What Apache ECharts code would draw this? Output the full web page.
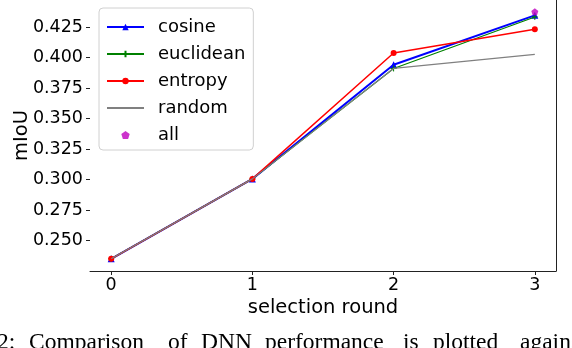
<!DOCTYPE html>
<html><head><meta charset="utf-8">
<script src="https://cdn.jsdelivr.net/npm/echarts@6/dist/echarts.min.js"></script>
<style>html,body{margin:0;padding:0;background:#fff}#c{width:572px;height:348px}</style>
</head><body><div id="c"></div>
<script>
var rounds = [0, 1, 2, 3];
var cosine = [0.235, 0.3005, 0.394, 0.4345];
var euclidean = [0.235, 0.3005, 0.391, 0.4332];
var entropy = [0.235, 0.3005, 0.4037, 0.4232];
var random = [0.235, 0.3005, 0.391, 0.4025];
var allRounds = [3];
var allValues = [0.4375];
var xTicks = [0, 1, 2, 3];
var yTicks = [0.250, 0.275, 0.300, 0.325, 0.350, 0.375, 0.400, 0.425];
var captionWords = ["2:", "Comparison", "of", "DNN", "performance", "is", "plotted", "against"];

function pairs(xs, ys) { return xs.map(function (x, i) { return [x, ys[i]]; }); }
var FONT = 'DejaVu Sans';
var PLUS = 'path://M5,0 L5,10 M0,5 L10,5';
var PENT = 'path://M0,-1 L0.951,-0.309 L0.588,0.809 L-0.588,0.809 L-0.951,-0.309 Z';

var chart = echarts.init(document.getElementById('c'), null, {renderer: 'canvas'});
var capX = [-3, 29, 168, 201, 265, 403, 433, 520];
chart.setOption({
  animation: false,
  backgroundColor: '#fff',
  grid: {left: 90, right: 16, top: 0, bottom: 77, containLabel: false, outerBoundsMode: 'none'},
  xAxis: {
    type: 'value', min: -0.15, max: 3.15,
    name: 'selection round', nameLocation: 'middle', nameGap: 27, nameMoveOverlap: false,
    nameTextStyle: {fontFamily: FONT, fontSize: 19.5, color: '#000'},
    axisLine: {show: true, onZero: false, lineStyle: {color: '#222', width: 1}},
    axisTick: {show: true, length: 4, customValues: xTicks, lineStyle: {color: '#222'}},
    axisLabel: {customValues: xTicks, margin: 5, fontFamily: FONT, fontSize: 17.5, color: '#000',
      formatter: function (v) { return String(v); }},
    splitLine: {show: false}
  },
  yAxis: [{
    type: 'value', min: 0.225, max: 0.4471,
    name: 'mIoU', nameLocation: 'middle', nameGap: 58, nameMoveOverlap: false,
    nameTextStyle: {fontFamily: FONT, fontSize: 19.5, color: '#000'},
    axisLine: {show: false, onZero: false},
    axisTick: {show: true, length: 4, customValues: yTicks, lineStyle: {color: '#222'}},
    axisLabel: {customValues: yTicks, margin: 7, fontFamily: FONT, fontSize: 17.5, color: '#000',
      formatter: function (v) { return v.toFixed(3); }},
    splitLine: {show: false}
  }, {
    type: 'value', min: 0.225, max: 0.4471, position: 'right',
    axisLine: {show: true, onZero: false, lineStyle: {color: '#222', width: 1}},
    axisTick: {show: false}, axisLabel: {show: false}, splitLine: {show: false}
  }],
  legend: {
    orient: 'vertical', left: 99, top: 8,
    padding: [10, 8, 6, 7], itemGap: 9, itemWidth: 37, itemHeight: 8,
    backgroundColor: '#fff', borderColor: '#d0d0d0', borderWidth: 1, borderRadius: 4,
    textStyle: {fontFamily: FONT, fontSize: 18, color: '#000', padding: [0, 0, 0, 9]},
    data: ['cosine', 'euclidean', 'entropy',
      {name: 'random', itemStyle: {color: 'rgba(0,0,0,0)', borderWidth: 0}}, 'all']
  },
  series: [
    {name: 'cosine', type: 'line', data: pairs(rounds, cosine), color: '#0000ff',
      lineStyle: {width: 2, color: '#0000ff'}, symbol: 'triangle', symbolSize: 7,
      itemStyle: {color: '#0000ff'}, z: 2},
    {name: 'euclidean', type: 'line', data: pairs(rounds, euclidean), color: '#008000',
      lineStyle: {width: 1.2, color: '#008000'}, symbol: PLUS, symbolSize: 6,
      itemStyle: {color: '#008000', borderColor: '#008000', borderWidth: 1}, z: 3},
    {name: 'entropy', type: 'line', data: pairs(rounds, entropy), color: '#ff0000',
      lineStyle: {width: 1.5, color: '#ff0000'}, symbol: 'circle', symbolSize: 6,
      itemStyle: {color: '#ff0000'}, z: 4},
    {name: 'random', type: 'line', data: pairs(rounds, random), color: '#808080',
      lineStyle: {width: 1.2, color: '#808080'}, symbol: 'none', showSymbol: false, z: 5},
    {name: 'all', type: 'scatter', data: pairs(allRounds, allValues), color: '#bf00bf',
      symbol: PENT, symbolSize: 7, itemStyle: {color: '#bf00bf'}, z: 6}
  ],
  graphic: captionWords.map(function (w, i) {
    return {type: 'text', left: capX[i], top: 331, silent: true,
      style: {text: w, font: '23.5px "Liberation Serif"', fill: '#000'}};
  })
});
</script></body></html>
